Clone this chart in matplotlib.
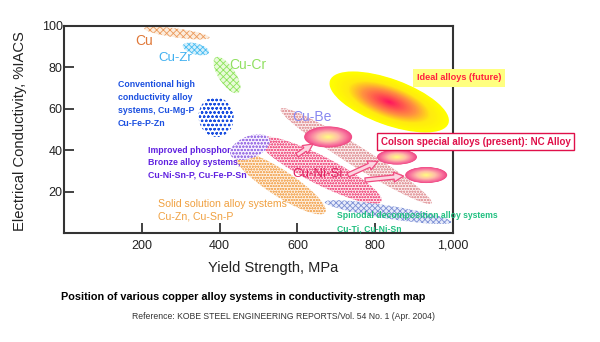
import numpy as np
import matplotlib
matplotlib.use("Agg")
import matplotlib.pyplot as plt
from matplotlib.patches import Ellipse
from matplotlib.transforms import ScaledTranslation
from matplotlib.colors import LinearSegmentedColormap

plt.rcParams['font.family'] = ['Liberation Sans', 'DejaVu Sans']
plt.rcParams['hatch.linewidth'] = 0.6

# alloy regions: centre strength (MPa) and conductivity (%IACS)
region_names = ['Cu', 'Cu-Zr', 'Cu-Cr', 'High conductivity', 'Phosphor bronze',
                'Solid solution', 'Cu-Ni-Si', 'Cu-Be band', 'Spinodal']
region_strength = [290, 339, 419, 391, 478, 555, 658, 751, 833]
region_conductivity = [96.6, 88.9, 76.3, 56.0, 41.5, 24.2, 30.4, 37.2, 10.1]

# Colson (NC alloy) grades and the ideal target
colson_strength = [679, 856, 931]
colson_conductivity = [46.4, 36.7, 28.0]
ideal_strength = 836
ideal_conductivity = 63.3

xticks = [200, 400, 600, 800, 1000]
xticklabels = ['200', '400', '600', '800', '1,000']
yticks = [20, 40, 60, 80, 100]

DPI = 100
fig = plt.figure(figsize=(6.0, 3.42), dpi=DPI)
ax = fig.add_axes([0.1067, 0.3187, 0.6483, 0.6053])
ax.set_xlim(0, 1000)
ax.set_ylim(0, 100)


def blob(x, y, w, h, angle, **kw):
    # ellipse of fixed pixel size centred on a data point
    trans = fig.dpi_scale_trans + ScaledTranslation(x, y, ax.transData)
    e = Ellipse((0, 0), w / DPI, h / DPI, angle=angle, transform=trans, **kw)
    ax.add_patch(e)
    return e


# width px, height px, angle deg, hatch colour, tint, hatch
region_style = {
    'Cu':                (66, 9, -8, '#eb9a5c', '#fcecdc', 'xxxxx'),
    'Cu-Zr':             (27, 11, -15, '#48bcf2', '#d4f0fc', 'xxxxxx'),
    'Cu-Cr':             (42, 17, -57, '#8ce45a', '#e8fad8', 'xxxxx'),
    'High conductivity': (35, 40, 10, '#1a4fe0', '#ffffff', 'oooo'),
    'Phosphor bronze':   (42, 22, 22, '#a078e6', '#f6f0fe', 'ooooo'),
    'Solid solution':    (108, 26, -33, '#f4b068', '#fef0e0', 'oooooo'),
    'Cu-Ni-Si':          (138, 28, -27, '#f2638e', '#fde4ec', 'oooooo'),
    'Cu-Be band':        (178, 20, -32, '#e4a0a4', '#fbeeee', 'oooooo'),
    'Spinodal':          (128, 13, -9, '#7a8ed4', '#e8ecfa', 'xxxxxx'),
}

draw_order = ['Cu-Be band', 'Solid solution', 'Cu-Ni-Si', 'Spinodal', 'Cu', 'Cu-Zr',
              'Cu-Cr', 'High conductivity', 'Phosphor bronze']
for name in draw_order:
    i = region_names.index(name)
    w, h, ang, hc, tint, hatch = region_style[name]
    blob(region_strength[i], region_conductivity[i], w, h, ang,
         facecolor=tint, edgecolor=hc, hatch=hatch, linewidth=0, zorder=2)

# radial gradients drawn as nested ellipses
ideal_cmap = LinearSegmentedColormap.from_list(
    'ideal', [(0, '#ff1060'), (0.45, '#ff9040'), (0.7, '#ffea10'), (1, '#ffff00')])
colson_cmap = LinearSegmentedColormap.from_list(
    'colson', [(0, '#ffff80'), (0.45, '#ffc0a8'), (0.8, '#f8709e'), (1, '#f04a84')])


def gradient_blob(x, y, w, h, angle, cmap, steps=40):
    for k in np.linspace(1, 0.03, steps):
        blob(x, y, w * k, h * k, angle, facecolor=cmap(k), edgecolor='none',
             linewidth=0, zorder=4)


gradient_blob(ideal_strength, ideal_conductivity, 126, 46, -20, ideal_cmap)
for xs, yc, (w, h) in zip(colson_strength, colson_conductivity, [(48, 21), (40, 15), (42, 16)]):
    gradient_blob(xs, yc, w, h, 0, colson_cmap)

# hollow arrows from the Cu-Ni-Si label to the Colson grades
arrow_kw = dict(arrowstyle='simple,head_length=0.7,head_width=0.7,tail_width=0.3',
                facecolor='#fcd4e0', edgecolor='#f04a80', lw=0.9, shrinkA=0, shrinkB=0)
for (x0, y0), (x1, y1) in [((599, 37.6), (640, 43.0)),
                           ((730, 28.0), (807, 34.6)),
                           ((774, 25.6), (873, 27.5))]:
    ax.annotate('', xy=(x1, y1), xytext=(x0, y0), arrowprops=arrow_kw, zorder=5)

# region labels
ax.text(183, 92.8, 'Cu', color='#e07838', fontsize=10, va='center', zorder=6)
ax.text(242, 84.5, 'Cu-Zr', color='#40b0f0', fontsize=9.5, va='center', zorder=6)
ax.text(424, 81.2, 'Cu-Cr', color='#90e060', fontsize=10, va='center', zorder=6)
ax.text(139, 62.3, 'Conventional high\nconductivity alloy\nsystems, Cu-Mg-P\nCu-Fe-P-Zn',
        color='#1a4fe0', fontsize=6.3, fontweight='bold', va='center', linespacing=1.55, zorder=6)
ax.text(216, 34.0, 'Improved phosphor\nBronze alloy systems,\nCu-Ni-Sn-P, Cu-Fe-P-Sn',
        color='#6020e0', fontsize=6.3, fontweight='bold', va='center', linespacing=1.5, zorder=6)
ax.text(242, 11.1, 'Solid solution alloy systems\nCu-Zn, Cu-Sn-P',
        color='#f0a040', fontsize=7.6, va='center', linespacing=1.3, zorder=6)
ax.text(586, 56.0, 'Cu-Be', color='#8888f0', fontsize=10, va='center', zorder=6)
ax.text(586, 28.5, 'Cu-Ni-Si', color='#e02060', fontsize=9.5, va='center', zorder=6)
ax.text(702, 5.1, 'Spinodal decomposition alloy systems\nCu-Ti, Cu-Ni-Sn',
        color='#20c080', fontsize=6.2, fontweight='bold', va='center', linespacing=1.6,
        zorder=6, clip_on=False)
ax.text(1015, 74.9, 'Ideal alloys (future)', color='#ff2040', fontsize=6.6, fontweight='bold',
        ha='center', va='center', zorder=6,
        bbox=dict(boxstyle='square,pad=0.45', facecolor='#ffff80', edgecolor='none'))
ax.text(1058, 44.2, 'Colson special alloys (present): NC Alloy', color='#e0104a',
        fontsize=7, fontweight='bold', ha='center', va='center', zorder=6,
        bbox=dict(boxstyle='square,pad=0.4', facecolor='white', edgecolor='#e0104a', lw=1))

ax.set_xticks(xticks)
ax.set_xticklabels(xticklabels)
ax.set_yticks(yticks)
ax.tick_params(direction='in', length=7, width=1.2, labelsize=9, colors='#222222')
ax.tick_params(axis='x', pad=5)
ax.tick_params(axis='y', pad=1)
for s in ax.spines.values():
    s.set_linewidth(1.5)
    s.set_color('#333333')

fig.text(0.456, 0.216, 'Yield Strength, MPa', fontsize=10.5, ha='center', va='center', color='#222222')
fig.text(0.034, 0.617, 'Electrical Conductivity, %IACS', fontsize=10.6, rotation=90,
         ha='center', va='center', color='#222222')
fig.text(0.405, 0.1316, 'Position of various copper alloy systems in conductivity-strength map',
         fontsize=7.8, fontweight='bold', ha='center', va='center')
fig.text(0.4717, 0.0731, 'Reference: KOBE STEEL ENGINEERING REPORTS/Vol. 54 No. 1 (Apr. 2004)',
         fontsize=6.2, ha='center', va='center', color='#333333')

fig.savefig('out.png', dpi=DPI)
